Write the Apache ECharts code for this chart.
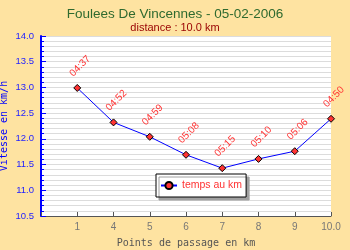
<!DOCTYPE html>
<html><head><meta charset="utf-8">
<script src="https://cdn.jsdelivr.net/npm/echarts@6/dist/echarts.min.js"></script>
<style>html,body{margin:0;padding:0;background:#FEE3A1;}#c{width:350px;height:250px;}</style>
</head><body><div id="c"></div>
<script>
const xLabels = ['1', '4', '5', '6', '7', '8', '9', '10.0'];
const speeds = [12.99, 12.32, 12.04, 11.69, 11.43, 11.61, 11.76, 12.39];
const paces = ['04:37', '04:52', '04:59', '05:08', '05:15', '05:10', '05:06', '04:50'];
const yTicks = [10.5, 11.0, 11.5, 12.0, 12.5, 13.0, 13.5, 14.0];
const SANS = "'Liberation Sans', Arial, sans-serif";

const chart = echarts.init(document.getElementById('c'));
chart.setOption({
  backgroundColor: '#FEE3A1',
  animation: false,
  title: [
    { text: 'Foulees De Vincennes - 05-02-2006', left: 'center', top: 2,
      textStyle: { fontFamily: SANS, fontSize: 13.5, fontWeight: 'normal', color: '#2f6a2f' } },
    { text: 'distance : 10.0 km', left: 'center', top: 17,
      textStyle: { fontFamily: SANS, fontSize: 11, fontWeight: 'normal', color: '#990000' } }
  ],
  legend: {
    left: 156, top: 174,
    padding: [6, 4, 6, 4],
    backgroundColor: '#ffffff', borderColor: '#000000', borderWidth: 1, borderRadius: 0,
    shadowColor: '#a0a0a0', shadowBlur: 0, shadowOffsetX: 3, shadowOffsetY: 3,
    itemWidth: 16, itemHeight: 9,
    textStyle: { fontFamily: SANS, fontSize: 10.5, color: '#ff3333' },
    data: ['temps au km']
  },
  grid: { left: 41, right: 19, top: 36, bottom: 34, show: true, backgroundColor: '#ffffff', borderWidth: 0,
    containLabel: false, outerBoundsMode: 'none' },
  xAxis: {
    type: 'value', min: 0, max: 8, interval: 1,
    name: 'Points de passage en km', nameLocation: 'middle', nameGap: 22, nameMoveOverlap: false,
    nameTextStyle: { fontFamily: 'DejaVu Sans Mono', fontSize: 10, color: '#555555' },
    axisLine: { lineStyle: { color: '#555555', width: 1 } },
    axisTick: { inside: true, length: 4, lineStyle: { color: '#555555' } },
    axisLabel: { fontFamily: SANS, fontSize: 10, color: '#777777', margin: 6,
      formatter: v => (v >= 1 && v <= xLabels.length) ? xLabels[v - 1] : '' },
    splitLine: { show: false }
  },
  yAxis: {
    type: 'value', min: yTicks[0], max: yTicks[yTicks.length - 1], interval: 0.5,
    name: 'Vitesse en km/h', nameLocation: 'middle', nameGap: 32, nameMoveOverlap: false,
    nameTextStyle: { fontFamily: 'DejaVu Sans Mono', fontSize: 10, color: '#0000ff' },
    axisLine: { show: true, lineStyle: { color: '#0000ff', width: 2 } },
    axisTick: { show: true, inside: true, length: 5, lineStyle: { color: '#0000ff', width: 1 } },
    minorTick: { show: true, splitNumber: 5, length: 3, lineStyle: { color: '#0000ff', width: 1 } },
    axisLabel: { fontFamily: SANS, fontSize: 9.5, color: '#2222ff', margin: 7,
      formatter: v => v.toFixed(1) },
    splitLine: { show: true, lineStyle: { color: '#dcdcdc', width: 1 } },
    minorSplitLine: { show: true, lineStyle: { color: '#dcdcdc', width: 1 } }
  },
  series: [{
    name: 'temps au km', type: 'line',
    symbol: 'circle', symbolSize: 7,
    data: speeds.map((v, i) => ({ value: [i + 1, v], symbol: 'diamond' })),
    lineStyle: { color: '#0000ff', width: 1 },
    itemStyle: { color: '#ff3333', borderColor: '#000000', borderWidth: 1 },
    label: {
      show: true, position: [-2, -9], rotate: 45, align: 'left', verticalAlign: 'middle',
      fontFamily: SANS, fontSize: 10, color: '#ff3333',
      formatter: p => paces[p.dataIndex]
    }
  }]
});
</script></body></html>
